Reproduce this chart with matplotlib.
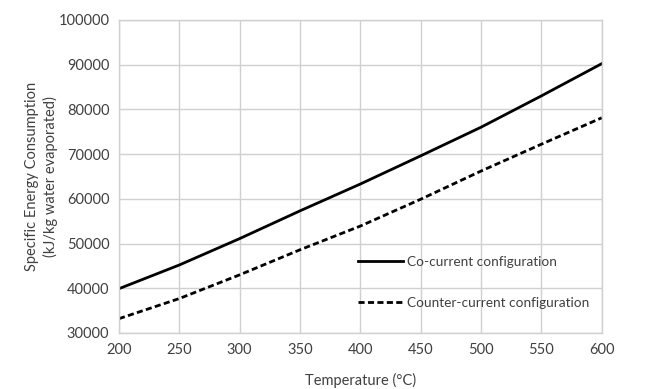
import numpy as np
import matplotlib.pyplot as plt

plt.rcParams['font.family'] = ['Lato', 'DejaVu Sans']

temperature = [200, 250, 300, 350, 400, 450, 500, 550, 600]
co_current = [39900, 45200, 51100, 57300, 63300, 69600, 76000, 83000, 90200]
counter_current = [33200, 37700, 43000, 48600, 53900, 59900, 66200, 72200, 78100]

y_ticks = [30000, 40000, 50000, 60000, 70000, 80000, 90000, 100000]
x_ticks = [200, 250, 300, 350, 400, 450, 500, 550, 600]

txt = '#404040'
grid = '#d0d0d0'
fs = 10.5

fig = plt.figure(figsize=(6.48, 3.89), dpi=100)
ax = fig.add_axes([0.1836, 0.144, 0.745, 0.805])

ax.plot(temperature, co_current, color='black', lw=2.0, label='Co-current configuration')
ax.plot(temperature, counter_current, color='black', lw=2.0, ls=(0, (2.2, 1.2)),
        label='Counter-current configuration')

ax.set_xlim(200, 600)
ax.set_ylim(30000, 100000)
ax.set_xticks(x_ticks)
ax.set_yticks(y_ticks)
ax.grid(True, color=grid, lw=1.0)
ax.set_axisbelow(True)
for s in ax.spines.values():
    s.set_color(grid)
    s.set_linewidth(1.0)
ax.tick_params(length=0, labelsize=fs, colors=txt, pad=7)

ax.set_xlabel('Temperature (°C)', fontsize=fs, color=txt, labelpad=12)
ax.set_ylabel('Specific Energy Consumption\n(kJ/kg water evaporated)', fontsize=fs,
              color=txt, labelpad=0, linespacing=1.35)

leg = ax.legend(loc='upper left', bbox_to_anchor=(0.495, 0.245), frameon=False,
                handlelength=3.3, handletextpad=0.3, labelspacing=2.1,
                fontsize=9.8, borderpad=0, borderaxespad=0)
for t in leg.get_texts():
    t.set_color(txt)

fig.savefig('out.png', dpi=100)
